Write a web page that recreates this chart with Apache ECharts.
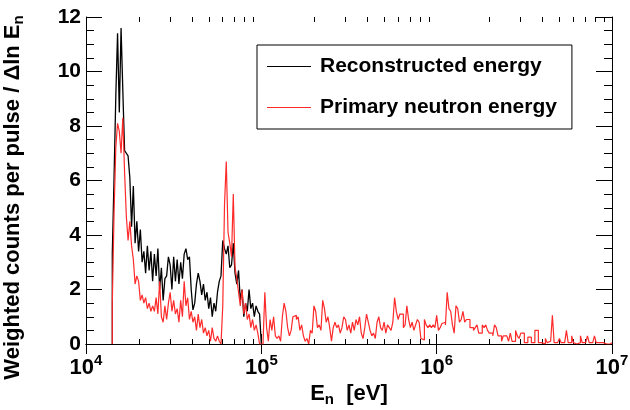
<!DOCTYPE html>
<html><head><meta charset="utf-8">
<script src="https://cdn.jsdelivr.net/npm/echarts@6/dist/echarts.min.js"></script>
<style>html,body{margin:0;padding:0;background:#fff;}#c{width:630px;height:410px;}</style>
</head><body><div id="c"></div>
<script>
// Histogram binning: 100 log bins per decade starting at 10^4; first filled bin index
const binsPerDecade = 100;
const logStart = 4;
const firstBin = 15;

// Reconstructed energy (black), bins 15..99
const reconstructed = [
 3.3, 6.1, 9.1, 11.4, 8.5, 11.6, 9.3, 7.1, 7.0, 6.9,
 6.1, 4.3, 5.8, 3.7, 4.5, 3.4, 4.2, 3.0, 3.4, 2.6,
 3.6, 2.7, 3.4, 2.3, 3.3, 2.5, 3.5, 2.0, 2.8, 1.6,
 2.4, 2.5, 3.2, 2.9, 2.0, 3.2, 2.3, 3.1, 2.2, 3.0,
 2.4, 3.3, 3.5, 3.1, 3.2, 2.0, 1.25, 1.5, 2.2, 2.6,
 2.3, 1.8, 2.2, 1.6, 1.9, 1.3, 1.7, 1.0, 1.5, 1.2,
 1.9, 2.3, 2.5, 3.8, 3.5, 3.3, 3.6, 2.8, 2.9, 3.7,
 2.6, 2.2, 2.7, 1.6, 2.0, 1.0, 1.5, 1.2, 2.0, 1.3,
 1.5, 1.0, 1.4, 1.2, 1.1
];

// Primary neutron energy (red), bins 15..299
const primary = [
 1.5, 4.8, 7.2, 8.1, 7.8, 7.0, 8.3, 6.3, 4.7, 3.8,
 4.5, 3.6, 3.1, 2.2, 2.5, 2.3, 1.6, 1.8, 1.5, 1.7,
 1.3, 1.5, 1.2, 1.4, 1.2, 1.7, 1.1, 2.3, 1.0, 0.8,
 1.4, 0.9, 1.5, 1.9, 1.2, 1.6, 1.1, 1.3, 0.8, 1.6,
 1.0, 2.3, 1.4, 1.7, 0.9, 1.2, 0.8, 1.0, 0.5, 1.1,
 0.6, 0.9, 0.4, 0.6, 0.3, 0.5, 0.1, 0.6, 0.2, 0.1,
 0.3, 0.1, 0.0, 1.4, 5.1, 6.7, 4.1, 3.7, 3.2, 5.5,
 2.8, 2.4, 1.9, 1.4, 2.0, 1.1, 1.5, 0.9, 1.1, 0.6,
 0.9, 0.5, 0.7, 0.4, 0.0, 0.0, 0.1, 1.9, 0.6, 0.1,
 0.9, 0.5, 1.0, 0.3, 0.2, 0.3, 0.1, 1.0, 1.5, 1.2,
 0.6, 0.3, 0.5, 1.0, 1.05, 0.9, 1.0, 0.5, 0.7, 0.3,
 0.1, 0.2, 0.0, 0.5, 0.4, 1.4, 1.2, 0.6, 0.7, 0.5,
 1.6, 1.3, 0.8, 1.0, 0.6, 0.1, 0.6, 0.8, 0.6, 0.7,
 0.4, 0.6, 1.0, 0.9, 0.5, 0.7, 0.4, 0.8, 0.5, 0.9,
 0.7, 1.0, 0.4, 0.2, 0.6, 1.1, 0.8, 0.5, 0.3, 0.4,
 0.2, 0.8, 1.0, 0.6, 0.5, 0.8, 0.4, 0.7, 0.6, 0.5,
 0.8, 1.7, 1.2, 0.9, 1.1, 1.1, 0.6, 0.7, 1.4, 0.9,
 0.6, 0.8, 0.5, 0.7, 0.9, 0.8, 0.2, 0.15, 0.9, 0.7,
 0.6, 0.7, 0.6, 0.7, 0.6, 1.05, 0.5, 0.6, 0.75, 0.8,
 0.7, 1.9, 1.3, 1.2, 0.7, 0.4, 1.4, 1.3, 0.8, 0.9,
 1.2, 0.8, 0.9, 0.9, 0.6, 0.6, 0.5, 0.6, 0.7, 0.4,
 0.4, 0.7, 0.6, 0.7, 0.5, 0.4, 0.4, 0.3, 0.7, 0.6,
 0.3, 0.3, 0.1, 0.3, 0.3, 0.3, 0.1, 0.4, 0.1, 0.1,
 0.5, 0.3, 0.2, 0.4, 0.4, 0.05, 0.05, 0.25, 0.25, 0.05,
 0.05, 0.5, 0.5, 0.05, 0.05, 0.0, 0.0, 0.2, 0.05, 0.1,
 0.1, 1.05, 0.05, 0.05, 0.0, 0.2, 0.05, 0.05, 0.05, 0.5,
 0.05, 0.05, 0.3, 0.05, 0.0, 0.05, 0.05, 0.3, 0.05, 0.05,
 0.0, 0.3, 0.05, 0.05, 0.0, 0.3, 0.05, 0.05, 0.0, 0.05,
 0.0, 0.0, 0.05, 0.0, 0.05
];

const seriesNames = ['Reconstructed energy', 'Primary neutron energy'];
const xRange = [1e4, 1e7];
const yRange = [0, 12];
const yStep = 2;
const xMinorMultipliers = [2, 3, 4, 5, 6, 7, 8, 9];
const xDecades = [1e4, 1e5, 1e6];

function edge(i) { return Math.pow(10, logStart + i / binsPerDecade); }
// Histogram outline: for each bin, a point at its lower and its upper edge
function histOutline(vals) {
  const pts = [[edge(firstBin), 0]];
  vals.forEach((v, k) => {
    pts.push([edge(firstBin + k), v]);
    pts.push([edge(firstBin + k + 1), v]);
  });
  pts.push([edge(firstBin + vals.length), 0]);
  return pts;
}

const FONT = '"Liberation Sans", Arial, Helvetica, sans-serif';
const chart = echarts.init(document.getElementById('c'), null, {renderer: 'canvas'});

const xLabelRich = {
  b: {fontSize: 22, fontWeight: 'bold', fontFamily: FONT, color: '#000', lineHeight: 29},
  s: {fontSize: 15, fontWeight: 'bold', fontFamily: FONT, color: '#000', verticalAlign: 'top', lineHeight: 15}
};
const titleRich = {
  t: {fontSize: 22, fontWeight: 'bold', fontFamily: FONT, color: '#000', lineHeight: 26},
  u: {fontSize: 15, fontWeight: 'bold', fontFamily: FONT, color: '#000', verticalAlign: 'bottom', lineHeight: 18}
};

chart.setOption({
  animation: false,
  textStyle: {fontFamily: FONT},
  grid: {left: 86, right: 18, top: 17, bottom: 66, containLabel: false, outerBoundsMode: 'none'},
  legend: {
    data: seriesNames,
    orient: 'vertical',
    left: 257, top: 45,
    padding: [11, 15, 11, 10],
    itemGap: 20,
    itemWidth: 44, itemHeight: 1,
    icon: 'rect',
    borderColor: '#000', borderWidth: 1,
    textStyle: {fontSize: 21, fontWeight: 'bold', color: '#000', fontFamily: FONT, padding: [0, 0, 0, 4]}
  },
  xAxis: [
    {
      type: 'log', logBase: 10, min: xRange[0], max: xRange[1], position: 'bottom',
      axisLine: {show: true, lineStyle: {color: '#000', width: 1}},
      axisTick: {show: true, inside: true, length: 10, lineStyle: {color: '#000'}},
      splitLine: {show: false},
      axisLabel: {
        margin: 9,
        formatter: v => '{b|10}{s|' + Math.round(Math.log10(v)) + '}',
        rich: xLabelRich
      },
      name: '{t|E}{u|n}{t|  [eV]}',
      nameLocation: 'middle', nameGap: 25,
      nameTextStyle: {rich: titleRich}
    },
    {
      type: 'log', logBase: 10, min: xRange[0], max: xRange[1], position: 'top',
      axisLine: {show: true, lineStyle: {color: '#000', width: 1}},
      axisTick: {show: true, inside: true, length: 10, lineStyle: {color: '#000'}},
      axisLabel: {show: false}, splitLine: {show: false}
    }
  ],
  yAxis: [
    {
      type: 'value', min: yRange[0], max: yRange[1], interval: yStep, position: 'left',
      axisLine: {show: true, lineStyle: {color: '#000', width: 1}},
      axisTick: {show: true, inside: true, length: 16, lineStyle: {color: '#000'}},
      minorTick: {show: true, splitNumber: 4, length: 8, lineStyle: {color: '#000'}},
      splitLine: {show: false},
      axisLabel: {fontSize: 21, fontWeight: 'bold', color: '#000', fontFamily: FONT, margin: 5},
      name: '{t|Weighted counts per pulse / Δln E}{u|n}',
      nameLocation: 'middle', nameRotate: 90, nameGap: 60,
      nameTextStyle: {padding: [0, 34, 0, 0], rich: titleRich}
    },
    {
      type: 'value', min: yRange[0], max: yRange[1], interval: yStep, position: 'right',
      axisLine: {show: true, lineStyle: {color: '#000', width: 1}},
      axisTick: {show: true, inside: true, length: 16, lineStyle: {color: '#000'}},
      minorTick: {show: true, splitNumber: 4, length: 8, lineStyle: {color: '#000'}},
      splitLine: {show: false}, axisLabel: {show: false}
    }
  ],
  series: [
    {
      name: seriesNames[0], type: 'line', xAxisIndex: 0, yAxisIndex: 0,
      data: histOutline(reconstructed), symbol: 'none', showSymbol: false,
      lineStyle: {color: '#000', width: 1.3}, itemStyle: {color: '#000'},
      z: 2
    },
    {
      name: seriesNames[1], type: 'line', xAxisIndex: 0, yAxisIndex: 0,
      data: histOutline(primary), symbol: 'none', showSymbol: false,
      lineStyle: {color: '#ff2a2a', width: 1.2}, itemStyle: {color: '#ff2a2a'},
      z: 3
    }
  ]
});

// Logarithmic minor ticks (2..9 x 10^n), placed through the axis scale
const yBottom = chart.convertToPixel({yAxisIndex: 0}, yRange[0]);
const yTop = chart.convertToPixel({yAxisIndex: 0}, yRange[1]);
const minorLines = [];
xDecades.forEach(d => xMinorMultipliers.forEach(m => {
  const px = Math.round(chart.convertToPixel({xAxisIndex: 0}, m * d)) + 0.5;
  minorLines.push({type: 'line', silent: true, shape: {x1: px, y1: yBottom, x2: px, y2: yBottom - 5}, style: {stroke: '#000', lineWidth: 1}});
  minorLines.push({type: 'line', silent: true, shape: {x1: px, y1: yTop, x2: px, y2: yTop + 5}, style: {stroke: '#000', lineWidth: 1}});
}));
chart.setOption({graphic: minorLines});
</script>
</body></html>
